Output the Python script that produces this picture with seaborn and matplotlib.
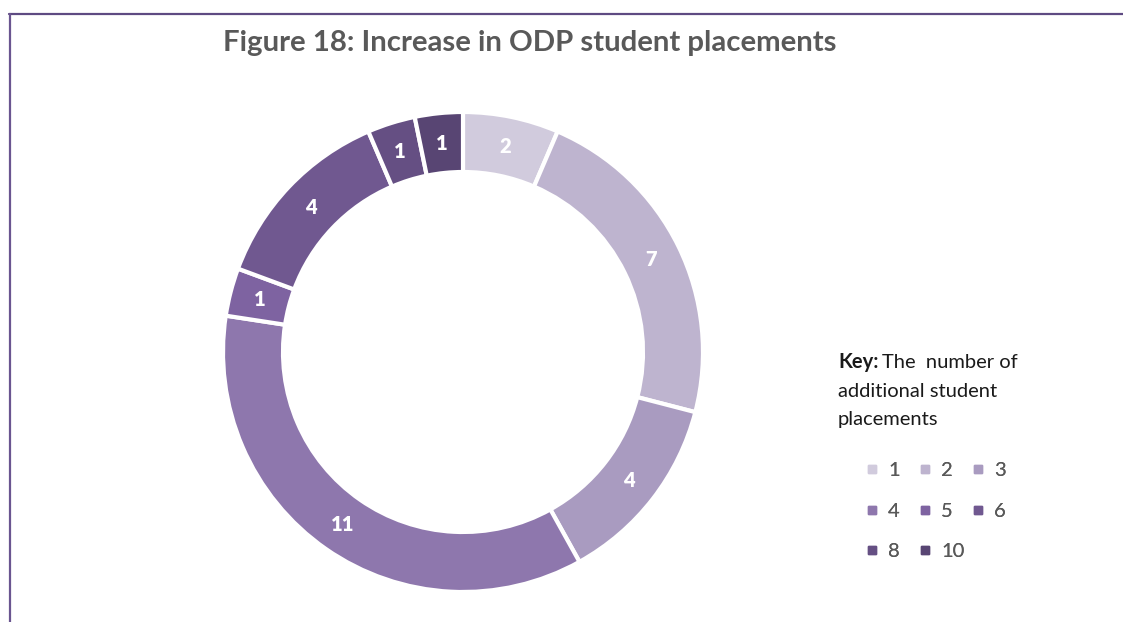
import matplotlib
matplotlib.use("Agg")
import matplotlib.pyplot as plt
from matplotlib.lines import Line2D
import numpy as np
import seaborn as sns

# Number of additional student placements (legend keys) and how many of each
categories = ["1", "2", "3", "4", "5", "6", "8", "10"]
counts = [2, 7, 4, 11, 1, 4, 1, 1]
slice_colors = ["#D1CBDD", "#BEB4CF", "#A99BC0", "#8E77AD",
                "#7E63A1", "#705890", "#654F83", "#584573"]
title = "Figure 18: Increase in ODP student placements"

sns.set_theme(style="white")
plt.rcParams["font.family"] = ["Lato", "DejaVu Sans"]

W, H = 1123, 622
fig = plt.figure(figsize=(W / 100, H / 100), dpi=100)
fig.patch.set_facecolor("white")

# donut axes: centre (463, 352) px, outer radius 240 px
cx, cy, R = 463, 352, 240
ax = fig.add_axes([(cx - R) / W, (H - cy - R) / H, 2 * R / W, 2 * R / H])
palette = sns.color_palette(slice_colors)
wedges, _ = ax.pie(
    counts, colors=palette, startangle=90, counterclock=False,
    radius=1.0, wedgeprops=dict(width=0.25, edgecolor="white", linewidth=3),
)
ax.set_xlim(-1, 1)
ax.set_ylim(-1, 1)
ax.set_aspect("equal")
ax.axis("off")

# value labels at the middle of each ring segment
total = sum(counts)
cum = 0
for v in counts:
    mid = (cum + v / 2) / total * 2 * np.pi
    r = 0.875
    ax.text(r * np.sin(mid), r * np.cos(mid), str(v), ha="center", va="center",
            color="white", fontsize=14.5, fontweight="heavy")
    cum += v

fig.text(530 / W, 1 - 43 / H, title, ha="center", va="center",
         fontsize=21.2, fontweight="bold", color="#595959")

# key description
kx = 838 / W
key_fs = 14.5
key = fig.text(kx, 1 - 368 / H, "Key:", ha="left", va="baseline",
               fontsize=key_fs, fontweight="bold", color="#1A1A1A")
renderer = fig.canvas.get_renderer()
kb = key.get_window_extent(renderer)
fig.text((kb.x1 + 4) / W, 1 - 368 / H, "The  number of", ha="left", va="baseline",
         fontsize=key_fs, color="#1A1A1A")
fig.text(kx, 1 - 397 / H, "additional student", ha="left", va="baseline",
         fontsize=key_fs, color="#1A1A1A")
fig.text(kx, 1 - 425 / H, "placements", ha="left", va="baseline",
         fontsize=key_fs, color="#1A1A1A")

# legend: three entries per row, one legend box per row so columns stay evenly spaced
handles = [Line2D([], [], marker="s", linestyle="none", markersize=6,
                  markerfacecolor=c, markeredgecolor=c) for c in palette]
row_y = [470, 511, 551]
for k, y in enumerate(row_y):
    idx = list(range(3 * k, min(3 * k + 3, len(categories))))
    leg = fig.legend([handles[i] for i in idx], [categories[i] for i in idx],
                     ncol=3, loc="center left",
                     bbox_to_anchor=(866 / W, 1 - y / H), frameon=False,
                     fontsize=14.5, labelcolor="#595959", handlelength=0.6,
                     handletextpad=0.5, columnspacing=0.95,
                     borderaxespad=0, borderpad=0)
    fig.add_artist(leg)

# frame lines along the top and left edge
fig.add_artist(Line2D([9 / W, 1], [1 - 13.5 / H, 1 - 13.5 / H],
                      transform=fig.transFigure, color="#5E4A82", linewidth=1.6))
fig.add_artist(Line2D([9.5 / W, 9.5 / W], [1 - 13.5 / H, 0],
                      transform=fig.transFigure, color="#6A5590", linewidth=1.6))

fig.savefig("out.png", dpi=100)
